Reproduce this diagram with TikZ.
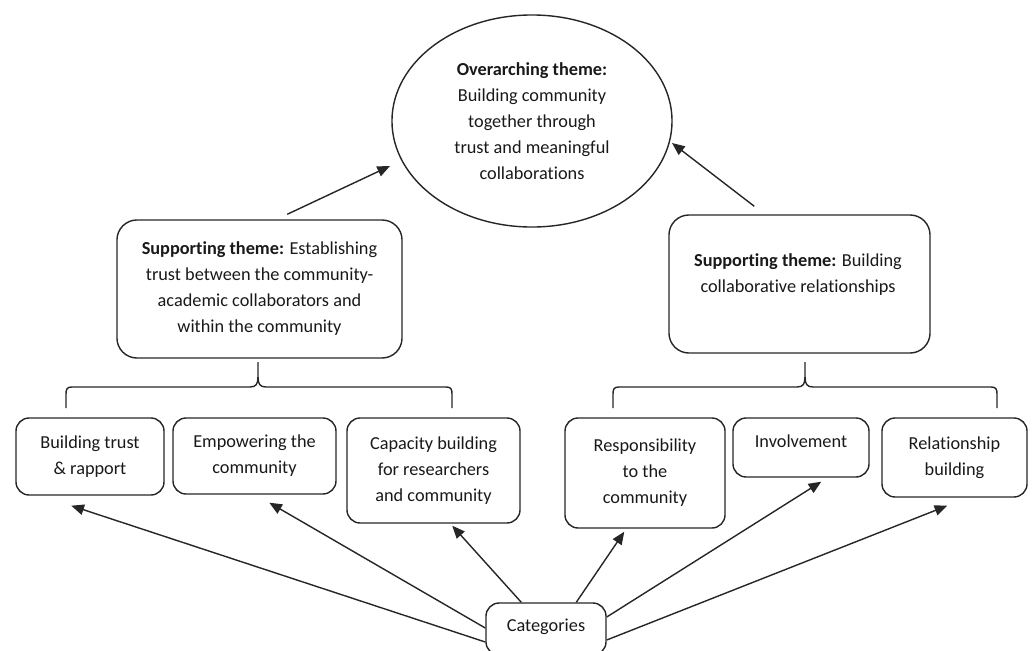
\documentclass[tikz,border=0pt]{standalone}
\usepackage{fontspec}
\setmainfont{Carlito}[RawFeature={-liga;-calt;-clig;-dlig}]
\usetikzlibrary{arrows.meta,calc,shapes.geometric}
\tikzset{
  txt/.style={font=\fontsize{13pt}{18.5pt}\selectfont, align=center, text=black!90},
  bigbox/.style={draw=black!85, line width=1pt, rounded corners=0.5cm, inner sep=0pt},
  smallbox/.style={draw=black!85, line width=1pt, rounded corners=0.33cm, inner sep=0pt, txt},
  conn/.style={draw=black!85, line width=1pt, -{Triangle[length=9pt,width=7.5pt]}},
  bracel/.style={draw=black!85, line width=1pt}
}
\begin{document}
\begin{tikzpicture}[x=0.025cm,y=-0.025cm]
\useasboundingbox (0,0) rectangle (1033,651);
% overarching ellipse
\node[ellipse, draw=black!85, line width=1pt, minimum width=7cm, minimum height=5.3cm, inner sep=0pt, txt] (ell) at (532,121)
  {\textbf{Overarching theme:}\\Building community\\together through\\trust and meaningful\\collaborations};
% supporting themes
\node[bigbox, txt, minimum width=7.125cm, minimum height=3.45cm] (ls) at (259.5,289)
  {\textbf{Supporting theme:} Establishing\\trust between the community-\\academic collaborators and\\within the community};
\node[bigbox, minimum width=6.525cm, minimum height=3.45cm] (rs) at (799.5,284) {};
\node[txt] (rstext) at (798,274.5) {\textbf{Supporting theme:} Building\\collaborative relationships};
% categories
\node[smallbox, minimum width=3.7cm, minimum height=1.925cm] (b1) at (90,456.5) {Building trust\\\& rapport};
\node[smallbox, minimum width=4.075cm, minimum height=1.9cm] (b2) at (254.5,456) {Empowering the\\community};
\node[smallbox, minimum width=4.325cm, minimum height=2.625cm] (b3) at (433.5,470.5) {Capacity building\\for researchers\\and community};
\node[smallbox, minimum width=4.0cm, minimum height=2.75cm] (b4) at (645,473) {Responsibility\\to the\\community};
\node[smallbox, minimum width=3.4cm, minimum height=1.475cm] (b5) at (801,447.5) {};
\node[txt] (b5text) at (801,441) {Involvement};
\node[smallbox, minimum width=3.625cm, minimum height=1.975cm] (b6) at (954.5,457.5) {Relationship\\building};
\node[smallbox, minimum width=3cm, minimum height=1.3cm] (cat) at (546,629) {};
\node[txt] (cattext) at (546,627) {Categories};
% braces
\draw[bracel] (66,408) -- (66,394) .. controls (66,389) and (67,387) .. (72,387) -- (250,387)
  .. controls (256,387) and (258,384) .. (258,377) -- (258,362);
\draw[bracel] (452,408) -- (452,394) .. controls (452,389) and (451,387) .. (446,387) -- (266,387)
  .. controls (260,387) and (258,384) .. (258,377);
\draw[bracel] (613,408) -- (613,394) .. controls (613,389) and (614,387) .. (619,387) -- (797,387)
  .. controls (803,387) and (805,384) .. (805,377) -- (805,362);
\draw[bracel] (997,408) -- (997,394) .. controls (997,389) and (996,387) .. (991,387) -- (813,387)
  .. controls (807,387) and (805,384) .. (805,377);
% connectors to overarching theme
\draw[conn] ($(ls.north west)+(171,-5)$) -- ($(ell.center)+(-142,45)$);
\draw[conn] ($(rs.north west)+(86,-8)$) -- ($(ell.center)+(140,22)$);
% connectors from categories
\draw[conn] ($(cat.west)+(0,13)$) -- ($(b1.south west)+(56,10)$);
\draw[conn] ($(cat.west)+(0,-1)$) -- ($(b2.south west)+(97,8)$);
\draw[conn] ($(cat.north west)+(36,0)$) -- ($(b3.south west)+(106,2)$);
\draw[conn] ($(cat.north west)+(91,0)$) -- ($(b4.south west)+(60,3)$);
\draw[conn] ($(cat.east)+(0,-12)$) -- ($(b5.south west)+(89,4)$);
\draw[conn] ($(cat.east)+(0,11)$) -- ($(b6.south west)+(66,8)$);
\end{tikzpicture}
\end{document}
